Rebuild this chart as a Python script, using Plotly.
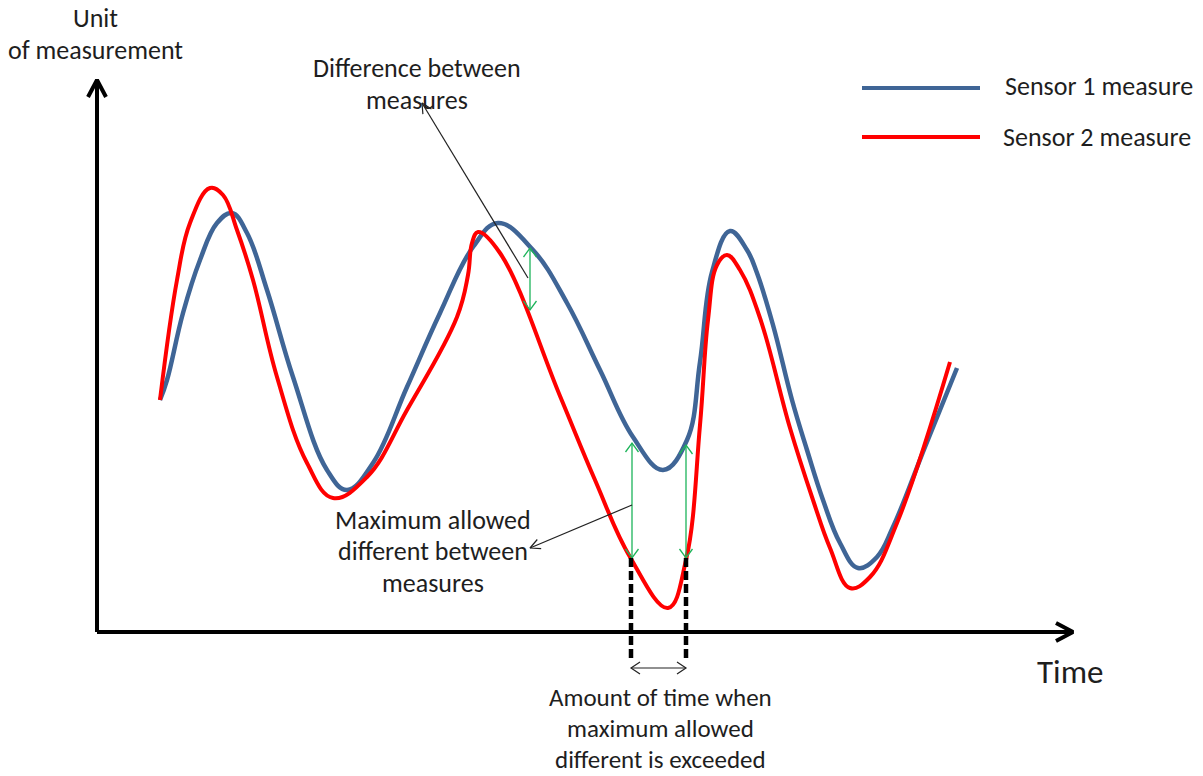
import math
import plotly.graph_objects as go

# ---------------- data (time units, measurement units) ----------------
s1_time = [63, 70, 86, 103, 120, 135, 150, 170, 196, 230, 250, 276, 310, 343, 376, 401,
           436, 470, 503, 536, 566, 590, 603, 615, 633, 650, 660, 676, 695, 710, 726,
           743, 761, 780, 796, 828, 860]
s1_value = [232, 252, 319, 372, 409, 419, 399, 342, 255, 162, 142, 169, 245, 319, 385, 409,
            382, 329, 262, 195, 162, 192, 270, 360, 401, 382, 359, 307, 232, 182, 132,
            89, 64, 75, 105, 185, 264]

s2_time = [63, 80, 93, 113, 126, 140, 156, 180, 210, 236, 270, 310, 360, 371, 375, 381,
           403, 463, 498, 533, 571, 589, 603, 611, 620, 630, 643, 663, 693, 716, 733,
           753, 773, 800, 853]
s2_value = [232, 352, 409, 444, 437, 402, 352, 255, 169, 134, 155, 222, 315, 357, 389, 400,
            379, 236, 152, 75, 24, 72, 207, 312, 367, 377, 362, 314, 204, 132, 84,
            44, 55, 109, 270]

series_names = ["Sensor 1 measure", "Sensor 2 measure"]

# difference markers (time, sensor-1 value, sensor-2 value)
diff_time = [433, 535, 589]
diff_top = [384, 189, 187]
diff_bottom = [322, 74, 74]

# exceedance interval
exceed_start = 534
exceed_end = 589

axis_x_max = 976
axis_y_max = 552

y_label_lines = ["Unit", "of measurement"]
x_label = "Time"
diff_label_lines = ["Difference between", "measures"]
max_label_lines = ["Maximum allowed", "different between", "measures"]
time_label_lines = ["Amount of time when", "maximum allowed", "different is exceeded"]

# ---------------- styles ----------------
BLUE = "#3F6596"
RED = "#FF0000"
GREEN = "#1DB45A"
TEXT = "#1E1E1E"
FONT = "Carlito, Calibri, Lato, sans-serif"
FS = 26
SMOOTH = 1.15

fig = go.Figure()


def vhead(tip, tail, length, half):
    dx, dy = tip[0] - tail[0], tip[1] - tail[1]
    d = math.hypot(dx, dy)
    ux, uy = dx / d, dy / d
    bx, by = tip[0] - ux * length, tip[1] - uy * length
    nx, ny = -uy, ux
    return ([bx + nx * half, tip[0], bx - nx * half, None],
            [by + ny * half, tip[1], by - ny * half, None])


def arrow(p0, p1, color, width, length, half, both=False):
    fig.add_trace(go.Scatter(x=[p0[0], p1[0]], y=[p0[1], p1[1]], mode="lines",
                             line=dict(color=color, width=width), hoverinfo="skip"))
    hx, hy = vhead(p1, p0, length, half)
    if both:
        bx, by = vhead(p0, p1, length, half)
        hx += bx
        hy += by
    fig.add_trace(go.Scatter(x=hx, y=hy, mode="lines",
                             line=dict(color=color, width=width), hoverinfo="skip"))


# axes
arrow((0, 0), (0, axis_y_max), "black", 4, 17, 9)
arrow((0, 0), (axis_x_max, 0), "black", 4, 17, 9)

# sensor curves
fig.add_trace(go.Scatter(x=s1_time, y=s1_value, mode="lines", name=series_names[0],
                         line=dict(color=BLUE, width=4.5, shape="spline", smoothing=SMOOTH)))
fig.add_trace(go.Scatter(x=s2_time, y=s2_value, mode="lines", name=series_names[1],
                         line=dict(color=RED, width=4, shape="spline", smoothing=SMOOTH)))

# green difference arrows
for t, a, b in zip(diff_time, diff_top, diff_bottom):
    arrow((t, b), (t, a), GREEN, 1.3, 9, 6.5, both=True)

# dashed exceedance lines
for t, b in zip([exceed_start, exceed_end], [diff_bottom[1], diff_bottom[2]]):
    fig.add_trace(go.Scatter(x=[t, t], y=[b, -28], mode="lines",
                             line=dict(color="black", width=4.5, dash="9px,4px"),
                             hoverinfo="skip"))

# time span arrow
arrow((exceed_start, -36), (exceed_end, -36), "#222222", 1.2, 9, 6, both=True)

# callout arrows
arrow((431, 354), (325, 529), "#222222", 1.2, 10, 5)
arrow((535, 127), (433, 84), "#222222", 1.2, 10, 5)

# legend (drawn manually)
for yy, col, name in zip([544, 495], [BLUE, RED], series_names):
    fig.add_trace(go.Scatter(x=[765, 883], y=[yy, yy], mode="lines",
                             line=dict(color=col, width=4), hoverinfo="skip"))

annots = []


def txt(s, x, y, size=FS, anchor="center"):
    annots.append(dict(text=s, x=x, y=y, xref="x", yref="y", showarrow=False,
                       xanchor=anchor, yanchor="middle",
                       font=dict(family=FONT, size=size, color=TEXT)))


txt(series_names[0], 906, 546, anchor="left")
txt(series_names[1], 904, 495, anchor="left")

for s, y in zip(y_label_lines, [614, 582]):
    txt(s, -2, y)
for s, y in zip(diff_label_lines, [564, 532]):
    txt(s, 320, y)
for s, y in zip(max_label_lines, [112, 81, 49]):
    txt(s, 336, y)
for s, y in zip(time_label_lines, [-65, -96, -127]):
    txt(s, 563, y, size=25)
txt(x_label, 973, -40, size=33)

fig.update_layout(
    width=1203, height=776,
    margin=dict(l=0, r=0, t=0, b=0),
    paper_bgcolor="white", plot_bgcolor="white",
    showlegend=False,
    annotations=annots,
    xaxis=dict(range=[-97, 1106], visible=False, fixedrange=True),
    yaxis=dict(range=[-144, 632], visible=False, fixedrange=True),
)

fig.write_html("out.html", include_plotlyjs=True,
               config={"displayModeBar": False},
               post_script="document.body.style.margin='0';document.body.style.overflow='hidden';")
